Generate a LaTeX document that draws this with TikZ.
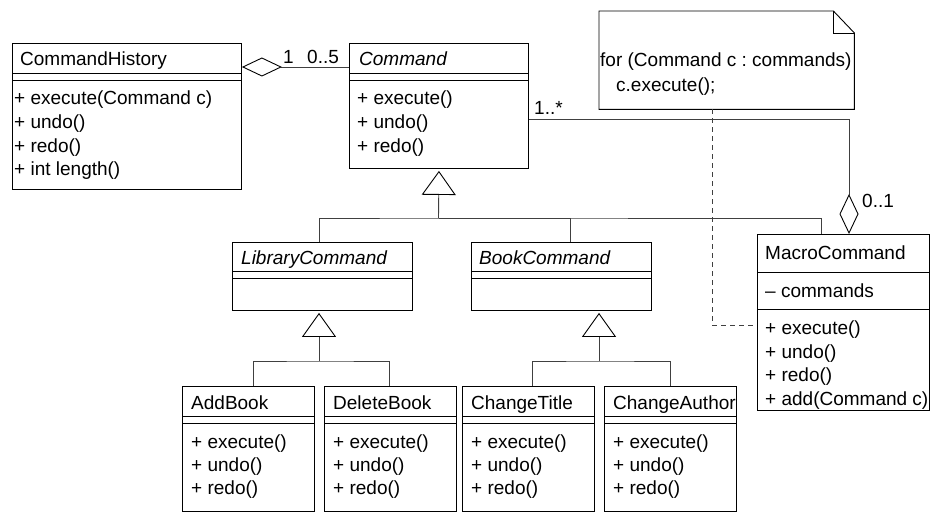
\documentclass[tikz,border=0pt]{standalone}
\usepackage{fontspec}
\setmainfont{Liberation Sans}
\usetikzlibrary{arrows.meta}

\tikzset{
  cls/.style={draw, anchor=north west, inner sep=0pt, line width=0.9pt},
  txt/.style={anchor=west, inner sep=0pt, text height=14pt, text depth=0pt, font=\fontsize{19}{23}\selectfont\frenchspacing},
  link/.style={line width=0.9pt, draw=black!75},
  aggr/.style={link, {Diamond[open, length=40pt, width=19pt, color=black]}-},
  gen/.style={link, {Triangle[open, length=24pt, width=34pt, color=black]}-},
}
% line across a class box, #2 pt below its top
\newcommand{\clsline}[2]{\draw[line width=0.9pt] ([yshift=-#2pt]#1.north west) -- ([yshift=-#2pt]#1.north east);}

\begin{document}
\begin{tikzpicture}[x=1pt, y=-1pt]
  \useasboundingbox (0,0) rectangle (939,524);

  % CommandHistory
  \node[cls, minimum width=229pt, minimum height=146pt] (hist) at (12,43) {};
  \clsline{hist}{30} \clsline{hist}{37}
  \node[txt] (hist-name) at (20,59) {CommandHistory};
  \foreach \op [count=\i] in {+ execute(Command c), + undo(), + redo(), + int length()}
    \node[txt] (hist-op\i) at (14,74.5+23.5*\i) {\op};

  % Command
  \node[cls, minimum width=179pt, minimum height=125pt] (cmd) at (349,43) {};
  \clsline{cmd}{30} \clsline{cmd}{37}
  \node[txt, font=\fontsize{19}{23}\selectfont\itshape] (cmd-name) at (359,59) {Command};
  \foreach \op [count=\i] in {+ execute(), + undo(), + redo()}
    \node[txt] (cmd-op\i) at (357,74.5+23.5*\i) {\op};

  % abstract subclasses
  \node[cls, minimum width=180pt, minimum height=68pt] (lib) at (232,242) {};
  \clsline{lib}{29} \clsline{lib}{36}
  \node[txt, font=\fontsize{19}{23}\selectfont\itshape] (lib-name) at (241,257) {LibraryCommand};
  \node[cls, minimum width=180pt, minimum height=68pt] (book) at (471,242) {};
  \clsline{book}{29} \clsline{book}{36}
  \node[txt, font=\fontsize{19}{23}\selectfont\itshape] (book-name) at (479,257) {BookCommand};

  % MacroCommand
  \node[cls, minimum width=172pt, minimum height=176pt] (macro) at (757,234) {};
  \clsline{macro}{38} \clsline{macro}{75}
  \node[txt] (macro-name) at (765,252) {MacroCommand};
  \node[txt] (macro-attr) at (765,290) {\textendash{} commands};
  \foreach \op [count=\i] in {+ execute(), + undo(), + redo(), + add(Command c)}
    \node[txt] (macro-op\i) at (765,304+23.5*\i) {\op};

  % concrete commands
  \foreach \cname/\ctitle/\cx in {addb/AddBook/182, delb/DeleteBook/324, chtitle/ChangeTitle/462, chauthor/ChangeAuthor/604} {
    \node[cls, minimum width=132pt, minimum height=125pt] (\cname) at (\cx,386) {};
    \clsline{\cname}{30} \clsline{\cname}{37}
    \node[txt] (\cname-name) at (\cx+9,402) {\ctitle};
    \foreach \op [count=\i] in {+ execute(), + undo(), + redo()}
      \node[txt] (\cname-op\i) at (\cx+9,418+23*\i) {\op};
  }

  % note
  \node[minimum width=255pt, minimum height=98pt, anchor=north west, inner sep=0pt] (note) at (599,11) {};
  \draw[line width=0.9pt] (note.north west) -- ([xshift=-21pt]note.north east) -- ([yshift=-22pt]note.north east)
    -- (note.south east) -- (note.south west) -- cycle;
  \draw[line width=0.9pt] ([xshift=-21pt]note.north east) |- ([yshift=-22pt]note.north east);
  \node[txt] (note-l1) at (600,60) {for (Command c : commands)};
  \node[txt] (note-l2) at (616,85) {c.execute();};

  % aggregations
  \draw[aggr] ([yshift=-24pt]hist.north east) -- ([yshift=-24pt]cmd.north west);
  \node[txt] (hist-mult) at (283,57) {1};
  \node[txt] (cmd-mult) at (307,57) {0..5};
  \draw[aggr] ([xshift=92pt]macro.north west) |- ([yshift=-76pt]cmd.north east);
  \node[txt] (cmd-mult2) at (534,107) {1..*};
  \node[txt] (macro-mult) at (862,200) {0..1};

  % generalizations
  \coordinate (cmd-fork) at (438.5,218);
  \draw[gen] ([yshift=-2pt]cmd.south) -- (cmd-fork);
  \draw[link] ([xshift=87pt]lib.north west) |- (cmd-fork) -| ([xshift=64pt]macro.north west);
  \draw[link] ([xshift=99pt]book.north west) |- (cmd-fork);

  \coordinate (lib-fork) at (319,361);
  \draw[gen] ([xshift=87pt,yshift=-2pt]lib.south west) -- (lib-fork);
  \draw[link] ([xshift=71pt]addb.north west) |- (lib-fork) -| ([xshift=65pt]delb.north west);

  \coordinate (book-fork) at (599,361);
  \draw[gen] ([xshift=128pt,yshift=-2pt]book.south west) -- (book-fork);
  \draw[link] ([xshift=70pt]chtitle.north west) |- (book-fork) -| ([xshift=66pt]chauthor.north west);

  % note link
  \draw[link, dash pattern=on 5pt off 4pt] ([xshift=113pt]note.south west) |- ([yshift=-91pt]macro.north west);
\end{tikzpicture}
\end{document}
